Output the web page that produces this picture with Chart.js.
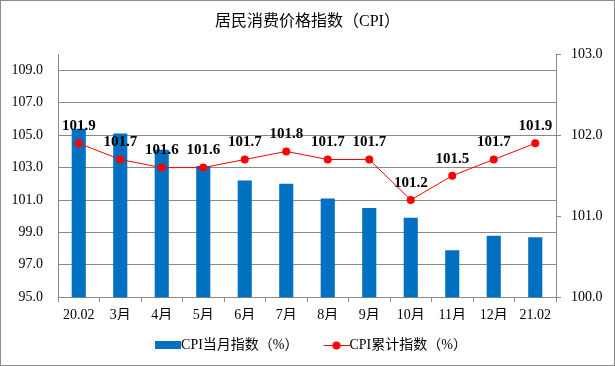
<!DOCTYPE html>
<html>
<head>
<meta charset="utf-8">
<script src="https://cdn.jsdelivr.net/npm/chart.js@4/dist/chart.umd.min.js"></script>
<style>
html,body{margin:0;padding:0;background:#fff;}
#wrap{position:relative;width:615px;height:366px;}
#frame{position:absolute;left:0;top:0;width:615px;height:366px;box-sizing:border-box;border:1px solid #8c8c8c;pointer-events:none;}
</style>
</head>
<body>
<div id="wrap">
<canvas id="c" width="615" height="366"></canvas>
<div id="frame"></div>
</div>
<script>
const categories = ['20.02','3月','4月','5月','6月','7月','8月','9月','10月','11月','12月','21.02'];
const monthlyIndex = [105.4,105.1,104.1,103.1,102.2,102.0,101.1,100.5,99.9,97.9,98.8,98.7];
const cumulativeIndex = [101.9,101.7,101.6,101.6,101.7,101.8,101.7,101.7,101.2,101.5,101.7,101.9];
const leftTicks = [95,97,99,101,103,105,107,109];
const rightTicks = [100,101,102,103];
const titleText = '居民消费价格指数（CPI）';
const seriesNames = ['CPI当月指数（%）','CPI累计指数（%）'];

const FONT = "'Liberation Serif','Noto Sans CJK SC',serif";
const BLUE = '#0070C0';
const RED = '#FF0000';
const GRID = '#8a8a8a';

function legendImg(type){
  const cv = document.createElement('canvas');
  cv.width = 40; cv.height = 10;
  const g = cv.getContext('2d');
  if(type==='bar'){
    g.fillStyle = BLUE; g.fillRect(14,1,26,8);
  } else {
    g.strokeStyle = RED; g.lineWidth = 1;
    g.beginPath(); g.moveTo(14,5.5); g.lineTo(40,5.5); g.stroke();
    g.fillStyle = RED; g.beginPath(); g.arc(27,5.5,4,0,Math.PI*2); g.fill();
  }
  return cv;
}
const imgs = [legendImg('bar'), legendImg('line')];

const labelPlugin = {
  id:'pointLabels',
  afterDatasetsDraw(chart){
    const meta = chart.getDatasetMeta(1);
    const ctx = chart.ctx;
    ctx.save();
    ctx.font = "bold 15px " + FONT;
    ctx.fillStyle = '#000';
    ctx.textAlign = 'center';
    ctx.textBaseline = 'middle';
    meta.data.forEach((el,i)=>{
      ctx.fillText(cumulativeIndex[i].toFixed(1), el.x, el.y - 17);
    });
    ctx.restore();
  }
};

Chart.defaults.color = '#000';
Chart.defaults.font.family = FONT;
Chart.defaults.font.size = 14;

new Chart(document.getElementById('c'), {
  type:'bar',
  data:{
    labels: categories,
    datasets:[
      {label:seriesNames[0], data:monthlyIndex, backgroundColor:BLUE, yAxisID:'y', order:2,
       barPercentage:0.34, categoryPercentage:1.0},
      {type:'line', label:seriesNames[1], data:cumulativeIndex, yAxisID:'y1', order:1,
       borderColor:RED, borderWidth:1, backgroundColor:RED, pointRadius:4, pointBackgroundColor:RED,
       pointBorderWidth:0, tension:0}
    ]
  },
  options:{
    responsive:false,
    animation:false,
    layout:{padding:{left:0,right:0,top:0,bottom:4}},
    plugins:{
      title:{display:true, text:titleText, font:{size:16, weight:'normal', family:FONT}, color:'#000', padding:{top:12,bottom:23}},
      legend:{position:'bottom', labels:{usePointStyle:true, pointStyleWidth:26, padding:18,
        font:{size:14, family:FONT},
        generateLabels(chart){
          return chart.data.datasets.map((d,i)=>({text:d.label, pointStyle:imgs[i], datasetIndex:i, hidden:false, lineWidth:0, fillStyle:'transparent', strokeStyle:'transparent', fontColor:'#000'}));
        }}},
      tooltip:{enabled:false}
    },
    scales:{
      x:{
        afterFit(s){ s.height -= 9; },
        grid:{offset:true, drawOnChartArea:false, drawTicks:true, tickLength:5, color:GRID},
        border:{color:GRID},
        ticks:{padding:5, font:{size:14, family:FONT}, color:'#000', maxRotation:0, autoSkip:false}
      },
      y:{
        position:'left', min:95, max:110,
        afterBuildTicks(s){ s.ticks = leftTicks.map(v=>({value:v})); },
        afterFit(s){ s.width = 58; },
        grid:{color:GRID, drawTicks:false},
        border:{color:GRID},
        ticks:{padding:15, callback:v=>Number(v).toFixed(1), font:{size:14, family:FONT}, color:'#000'}
      },
      y1:{
        position:'right', min:100, max:103,
        afterBuildTicks(s){ s.ticks = rightTicks.map(v=>({value:v})); },
        afterFit(s){ s.width = 59; },
        grid:{drawOnChartArea:false, drawTicks:true, tickLength:5, color:GRID},
        border:{color:GRID},
        ticks:{padding:10, callback:v=>Number(v).toFixed(1), font:{size:14, family:FONT}, color:'#000'}
      }
    }
  },
  plugins:[labelPlugin]
});
</script>
</body>
</html>
